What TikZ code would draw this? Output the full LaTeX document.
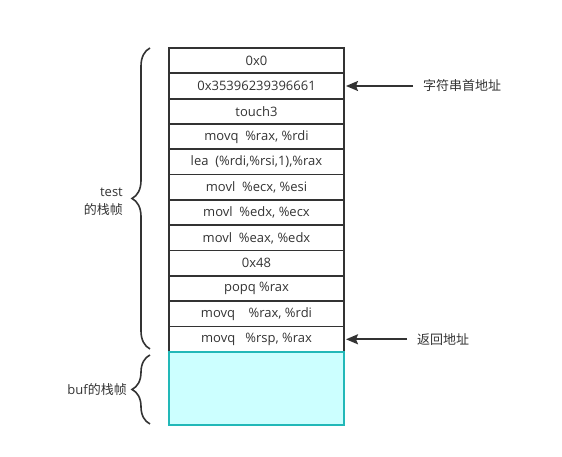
\documentclass[tikz,border=0pt]{standalone}
\usepackage{fontspec}
\setmainfont{Open Sans}
\newfontfamily\cjk{Noto Sans CJK SC}
\usepackage{tikz}
\usetikzlibrary{positioning, arrows.meta, decorations.pathreplacing, calc}
\definecolor{ink}{HTML}{333333}
\definecolor{bufcyan}{HTML}{CCFFFF}
\definecolor{bufedge}{HTML}{22B8B8}

\begin{document}
\begin{tikzpicture}[
        x=1pt, y=-1pt,
        font=\fontsize{13}{18}\selectfont,
        cell/.style   = {draw=ink, line width=1.7pt, minimum width=175pt, minimum height=25.33pt, inner sep=0pt, outer sep=0pt, text=ink},
        bufbox/.style = {draw=bufedge, fill=bufcyan, line width=2.2pt, minimum width=175pt, minimum height=73pt, outer sep=0pt},
        lbl/.style    = {text=ink, inner sep=4pt},
        ptr/.style    = {-{Stealth[length=12pt, width=10pt, inset=2pt]}, draw=ink, line width=1.8pt, shorten <=6pt, shorten >=2pt},
        stackbrace/.style = {draw=ink, line width=1.6pt, decorate, decoration={brace, amplitude=18pt}},
    ]
        \useasboundingbox (0,0) rectangle (562,457);

        % the stack, top to bottom
        \node[cell, anchor=north west] (r1) at (169,48) {0x0};
        \node[cell, below=0pt of r1] (r2) {0x35396239396661};
        \node[cell, below=0pt of r2] (r3) {touch3};
        \node[cell, below=0pt of r3] (r4) {movq\ \ \%rax, \%rdi};
        \node[cell, below=0pt of r4] (r5) {lea\ \ (\%rdi,\%rsi,1),\%rax};
        \node[cell, below=0pt of r5] (r6) {movl\ \ \%ecx, \%esi};
        \node[cell, below=0pt of r6] (r7) {movl\ \ \%edx, \%ecx};
        \node[cell, below=0pt of r7] (r8) {movl\ \ \%eax, \%edx};
        \node[cell, below=0pt of r8] (r9) {0x48};
        \node[cell, below=0pt of r9] (r10) {popq \%rax};
        \node[cell, below=0pt of r10] (r11) {movq\ \ \ \ \%rax, \%rdi};
        \node[cell, below=0pt of r11] (r12) {movq\ \ \ \%rsp, \%rax};
        \node[bufbox, below=0pt of r12] (buf) {};

        % braces
        \coordinate (tbot) at ($(r12.south west)+(-19,-3)$);
        \coordinate (ttop) at ($(r1.north west)+(-19,0)$);
        \coordinate (ttip) at ($(tbot)!0.5!(ttop)+(-18,0)$);
        \draw[stackbrace] (tbot) -- (ttop);

        \coordinate (bbot) at ($(buf.south west)+(-19,-1)$);
        \coordinate (btop) at ($(buf.north west)+(-19,3)$);
        \coordinate (btip) at ($(bbot)!0.5!(btop)+(-18,0)$);
        \draw[stackbrace] (bbot) -- (btop);

        \node[lbl, left=5pt of ttip, align=right, yshift=-3pt] (testlbl) {test\\{\cjk 的栈帧}};
        \node[lbl, left=1pt of btip] (buflbl) {buf{\cjk 的栈帧}};

        % pointers
        \node[lbl, right=75pt of r2] (addrlbl) {\cjk 字符串首地址};
        \node[lbl, right=69pt of r12] (retlbl) {\cjk 返回地址};
        \draw[ptr] (addrlbl) -- (r2);
        \draw[ptr] (retlbl) -- (r12);
    \end{tikzpicture}
\end{document}
